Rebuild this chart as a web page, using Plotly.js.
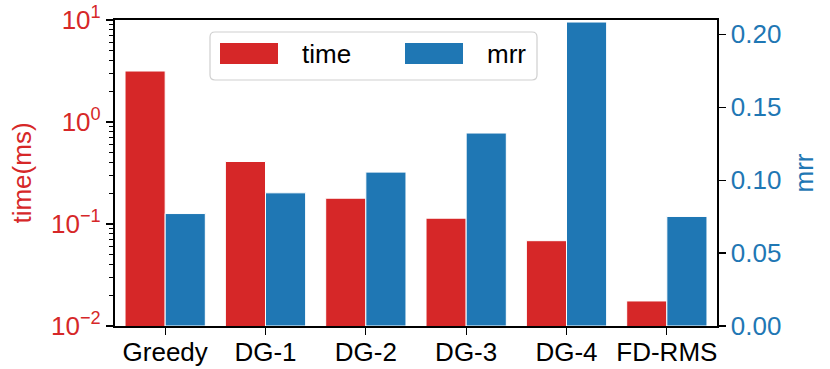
<!DOCTYPE html>
<html>
<head>
<meta charset="utf-8">
<script src="https://cdn.plot.ly/plotly-3.0.1.min.js"></script>
<style>html,body{margin:0;padding:0;background:#fff;}#chart{width:830px;height:369px;}</style>
</head>
<body>
<div id="chart"></div>
<script>
const categories = ["Greedy", "DG-1", "DG-2", "DG-3", "DG-4", "FD-RMS"];
const timeMs = [3.16, 0.41, 0.179, 0.114, 0.0686, 0.0176];
const mrr = [0.0771, 0.0913, 0.1055, 0.1323, 0.2084, 0.0751];
const leftTickVals = [0.01, 0.1, 1, 10];
const leftTickText = ["10<sup>\u22122</sup>", "10<sup>\u22121</sup>", "10<sup>0</sup>", "10<sup>1</sup>"];
const rightTickVals = [0, 0.05, 0.1, 0.15, 0.2];
const rightTickText = ["0.00", "0.05", "0.10", "0.15", "0.20"];

const RED = "#d62728", BLUE = "#1f77b4";
const FONT = "Liberation Sans, Arial, sans-serif";
const FS = 26;

// minor tick positions for log axis (2..9 in each decade)
const minorVals = [];
for (let e = -2; e < 1; e++) for (let m = 2; m <= 9; m++) minorVals.push(m * Math.pow(10, e));

const W = 830, H = 369;
const L = 115, R = 717, T = 20, B = 326;
const px = x => (x - L) / (R - L);
const py = y => (B - y) / (B - T);

const traces = [
  {type: "bar", x: categories, y: timeMs, name: "time", yaxis: "y",
   width: 0.4, offset: -0.4, marker: {color: RED, line: {color: "white", width: 1}}},
  {type: "bar", x: categories, y: mrr, name: "mrr", yaxis: "y2",
   width: 0.4, offset: 0, marker: {color: BLUE, line: {color: "white", width: 1}}}
];

// custom legend (matplotlib style, rounded frame)
function roundedRect(x0, y0, x1, y1, r) {
  const X = v => px(v).toFixed(5), Y = v => py(v).toFixed(5);
  return "M" + X(x0 + r) + "," + Y(y0) +
    " L" + X(x1 - r) + "," + Y(y0) +
    " Q" + X(x1) + "," + Y(y0) + " " + X(x1) + "," + Y(y0 + r) +
    " L" + X(x1) + "," + Y(y1 - r) +
    " Q" + X(x1) + "," + Y(y1) + " " + X(x1 - r) + "," + Y(y1) +
    " L" + X(x0 + r) + "," + Y(y1) +
    " Q" + X(x0) + "," + Y(y1) + " " + X(x0) + "," + Y(y1 - r) +
    " L" + X(x0) + "," + Y(y0 + r) +
    " Q" + X(x0) + "," + Y(y0) + " " + X(x0 + r) + "," + Y(y0) + " Z";
}
const legendItems = [
  {label: "time", color: RED, sx: 220, tx: 300},
  {label: "mrr", color: BLUE, sx: 405, tx: 485}
];
const shapes = [{
  type: "path", xref: "paper", yref: "paper",
  path: roundedRect(210, 32, 537, 80, 5),
  line: {color: "#d0d0d0", width: 1.2}, fillcolor: "rgba(255,255,255,0.85)", layer: "above"
}];
const annotations = [];
legendItems.forEach(it => {
  shapes.push({type: "rect", xref: "paper", yref: "paper",
    x0: px(it.sx), x1: px(it.sx + 58), y0: py(64), y1: py(43),
    line: {width: 0}, fillcolor: it.color, layer: "above"});
  annotations.push({xref: "paper", yref: "paper", x: px(it.tx), y: py(54),
    xanchor: "left", yanchor: "middle", text: it.label, showarrow: false,
    font: {family: FONT, size: FS, color: "black"}});
});

const layout = {
  width: W, height: H,
  margin: {l: L, r: W - R, t: T, b: H - B, pad: 0},
  paper_bgcolor: "white", plot_bgcolor: "white",
  showlegend: false, barmode: "overlay",
  font: {family: FONT, size: FS, color: "black"},
  xaxis: {
    type: "category", range: [-0.5, 5.5],
    showline: true, linecolor: "black", linewidth: 1.6, mirror: true,
    ticks: "outside", ticklen: 7, tickwidth: 1.3, tickcolor: "black",
    ticklabelstandoff: -5,
    showgrid: false, zeroline: false,
    tickfont: {family: FONT, size: FS, color: "black"}
  },
  yaxis: {
    type: "log", range: [-2, 1],
    tickmode: "array", tickvals: leftTickVals, ticktext: leftTickText,
    showline: true, linecolor: "black", linewidth: 1.6,
    ticks: "outside", ticklen: 7.5, tickwidth: 1.3, tickcolor: "black",
    minor: {tickmode: "array", tickvals: minorVals, ticks: "outside", ticklen: 4, tickwidth: 1, tickcolor: "black", showgrid: false},
    showgrid: false, zeroline: false,
    tickfont: {family: FONT, size: FS, color: RED},
    title: {text: "time(ms)", font: {family: FONT, size: FS, color: RED}, standoff: 12},
    automargin: false
  },
  yaxis2: {
    overlaying: "y", side: "right", range: [0, 0.2098],
    tickmode: "array", tickvals: rightTickVals, ticktext: rightTickText,
    showline: true, linecolor: "black", linewidth: 1.6,
    ticks: "outside", ticklen: 7, tickwidth: 1.3, tickcolor: "black",
    showgrid: false, zeroline: false,
    tickfont: {family: FONT, size: FS, color: BLUE},
    title: {text: "mrr", font: {family: FONT, size: FS, color: BLUE}, standoff: 14},
    automargin: false
  },
  shapes: shapes,
  annotations: annotations
};

Plotly.newPlot("chart", traces, layout, {staticPlot: true, displayModeBar: false});
</script>
</body>
</html>
